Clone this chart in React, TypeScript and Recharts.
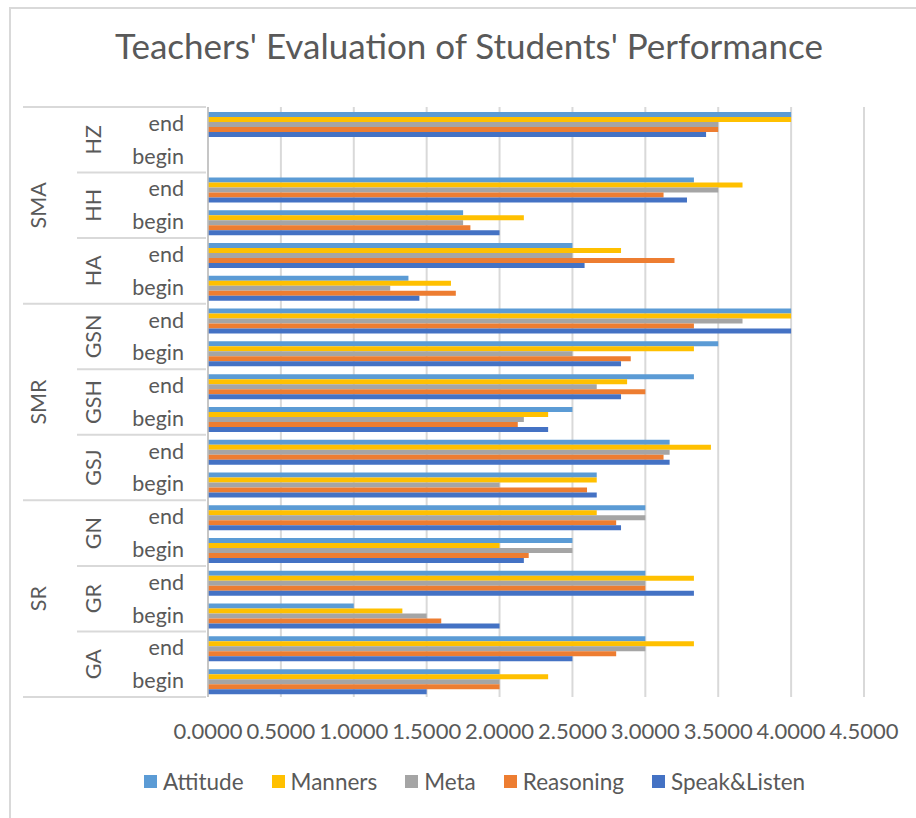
import { BarChart, Bar, XAxis, YAxis, CartesianGrid, Legend } from 'recharts'

const groups = ['SMA', 'SMR', 'SR']
const classes = ['HZ', 'HH', 'HA', 'GSN', 'GSH', 'GSJ', 'GN', 'GR', 'GA']
const phases = ['end', 'begin']

// one entry per row, top to bottom (HZ end, HZ begin, HH end, ...)
const attitude = [4.0, null, 3.3333, 1.75, 2.5, 1.375, 4.0, 3.5, 3.3333, 2.5, 3.1667, 2.6667, 3.0, 2.5, 3.0, 1.0, 3.0, 2.0]
const manners = [4.0, null, 3.6667, 2.1667, 2.8333, 1.6667, 4.0, 3.3333, 2.875, 2.3333, 3.45, 2.6667, 2.6667, 2.0, 3.3333, 1.3333, 3.3333, 2.3333]
const meta = [3.5, null, 3.5, 1.75, 2.5, 1.25, 3.6667, 2.5, 2.6667, 2.1667, 3.1667, 2.0, 3.0, 2.5, 3.0, 1.5, 3.0, 2.0]
const reasoning = [3.5, null, 3.125, 1.8, 3.2, 1.7, 3.3333, 2.9, 3.0, 2.125, 3.125, 2.6, 2.8, 2.2, 3.0, 1.6, 2.8, 2.0]
const speakListen = [3.4167, null, 3.2857, 2.0, 2.5833, 1.45, 4.0, 2.8333, 2.8333, 2.3333, 3.1667, 2.6667, 2.8333, 2.1667, 3.3333, 2.0, 2.5, 1.5]

const xTicks = [0, 0.5, 1, 1.5, 2, 2.5, 3, 3.5, 4, 4.5]

const series = [
  { key: 'Attitude', color: '#5B9BD5' },
  { key: 'Manners', color: '#FFC000' },
  { key: 'Meta', color: '#A5A5A5' },
  { key: 'Reasoning', color: '#ED7D31' },
  { key: 'Speak&Listen', color: '#4472C4' },
]

const data = attitude.map((_, i) => {
  const cls = Math.floor(i / 2)
  return {
    row: `${classes[cls]}-${phases[i % 2]}`,
    phase: phases[i % 2],
    cls: classes[cls],
    group: groups[Math.floor(cls / 3)],
    Attitude: attitude[i],
    Manners: manners[i],
    Meta: meta[i],
    Reasoning: reasoning[i],
    'Speak&Listen': speakListen[i],
  }
})

const W = 916
const H = 818
const TOP = 107
const BOTTOM = 121
const BAND = (H - TOP - BOTTOM) / data.length
const FONT = 'Lato, "Open Sans", sans-serif'
const TEXT = '#595959'
const LINE = '#d9d9d9'

function RowTick(props: any) {
  const { y, payload } = props
  const i = payload.index
  const d = data[i]
  const top = y - BAND / 2
  return (
    <g>
      <text x={184} y={y} dy="0.35em" textAnchor="end" fill={TEXT} fontSize={21.5} fontFamily={FONT}>
        {d.phase}
      </text>
      {i % 2 === 0 && (
        <>
          <line x1={i % 6 === 0 ? 23 : 77} x2={206} y1={top} y2={top} stroke={LINE} strokeWidth={2} />
          <text
            x={0}
            y={0}
            transform={`translate(93, ${y + BAND / 2}) rotate(-90)`}
            dy="0.35em"
            textAnchor="middle"
            fill={TEXT}
            fontSize={21.5}
            fontFamily={FONT}
          >
            {d.cls}
          </text>
        </>
      )}
      {i % 6 === 0 && (
        <text
          x={0}
          y={0}
          transform={`translate(38, ${y + 2.5 * BAND}) rotate(-90)`}
          dy="0.35em"
          textAnchor="middle"
          fill={TEXT}
          fontSize={21.5}
          fontFamily={FONT}
        >
          {d.group}
        </text>
      )}
      {i === data.length - 1 && (
        <line x1={23} x2={206} y1={y + BAND / 2} y2={y + BAND / 2} stroke={LINE} strokeWidth={2} />
      )}
    </g>
  )
}

function ValueTick(props: any) {
  const { x, y, payload } = props
  return (
    <text x={x} y={y + 40} textAnchor="middle" fill={TEXT} fontSize={22} fontFamily={FONT}>
      {Number(payload.value).toFixed(4)}
    </text>
  )
}

function LegendBox(props: any) {
  const items = props.payload || []
  return (
    <div style={{ display: 'flex', gap: 28, fontFamily: FONT, fontSize: 22.5, color: TEXT }}>
      {items.map((it: any) => (
        <div key={it.value} style={{ display: 'flex', alignItems: 'center', gap: 6 }}>
          <span style={{ width: 13, height: 13, background: it.color, display: 'inline-block' }} />
          <span>{it.value}</span>
        </div>
      ))}
    </div>
  )
}

export default function App() {
  return (
    <div style={{ position: 'absolute', left: 0, top: 0, width: W, height: H, overflow: 'hidden', background: '#fff' }}>
      <div
        style={{
          position: 'absolute',
          left: 9,
          top: 7,
          width: W,
          height: H,
          borderLeft: `2px solid ${LINE}`,
          borderTop: `2px solid ${LINE}`,
        }}
      />
      <div
        style={{
          position: 'absolute',
          left: 0,
          width: 938,
          top: 24,
          textAlign: 'center',
          fontFamily: FONT,
          fontSize: 35,
          color: TEXT,
        }}
      >
        Teachers' Evaluation of Students' Performance
      </div>
      <div style={{ position: 'absolute', left: 0, top: 0 }}>
        <BarChart
          width={W}
          height={H}
          data={data}
          layout="vertical"
          margin={{ top: TOP, right: 52, bottom: BOTTOM - 40, left: 8 }}
          barCategoryGap="15%"
          barGap={0}
        >
          <CartesianGrid horizontal={false} stroke={LINE} strokeWidth={2} />
          <XAxis
            type="number"
            domain={[0, 4.5]}
            ticks={xTicks}
            interval={0}
            axisLine={false}
            tickLine={false}
            tickSize={0}
            height={40}
            tick={<ValueTick />}
          />
          <YAxis
            type="category"
            dataKey="row"
            width={200}
            interval={0}
            tickLine={false}
            tickSize={0}
            axisLine={{ stroke: '#bfbfbf', strokeWidth: 1.5 }}
            tick={<RowTick />}
          />
          {series.map((s) => (
            <Bar key={s.key} dataKey={s.key} name={s.key} fill={s.color} isAnimationActive={false} />
          ))}
          <Legend
            layout="horizontal"
            verticalAlign="middle"
            align="center"
            wrapperStyle={{ top: 768, left: 144, width: 770 }}
            content={<LegendBox />}
          />
        </BarChart>
      </div>
    </div>
  )
}
